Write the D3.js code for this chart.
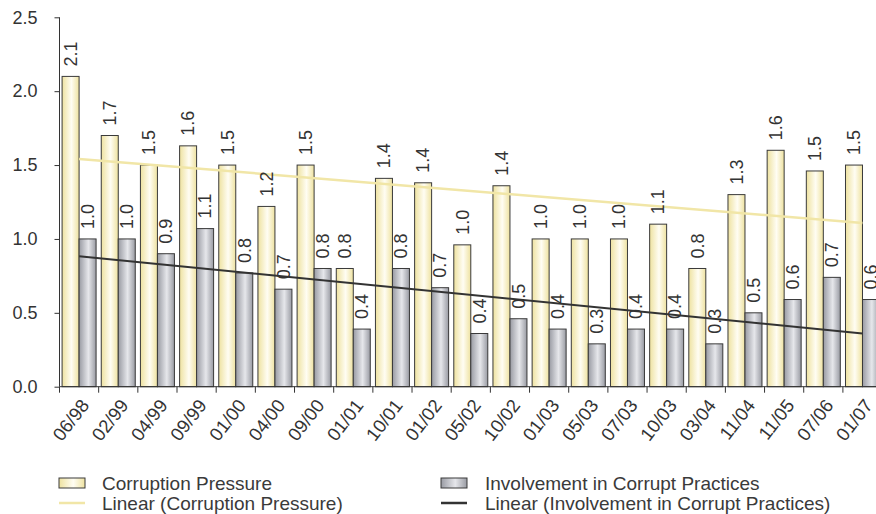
<!DOCTYPE html>
<html>
<head>
<meta charset="utf-8">
<script src="https://cdn.jsdelivr.net/npm/d3@7"></script>
<style>
  html, body { margin: 0; padding: 0; background: #ffffff; overflow: hidden; }
  svg { display: block; font-family: "Liberation Sans", Arial, Helvetica, sans-serif; }
</style>
</head>
<body>
<svg id="chart" width="876" height="514"></svg>
<script>
// Survey waves (month/year)
const categories = ["06/98","02/99","04/99","09/99","01/00","04/00","09/00","01/01","10/01","01/02",
  "05/02","10/02","01/03","05/03","07/03","10/03","03/04","11/04","11/05","07/06","01/07"];

// Corruption Pressure
const pressure = [2.10, 1.70, 1.50, 1.63, 1.50, 1.22, 1.50, 0.80, 1.41, 1.38,
  0.96, 1.36, 1.00, 1.00, 1.00, 1.10, 0.80, 1.30, 1.60, 1.46, 1.50];

// Involvement in Corrupt Practices
const involvement = [1.00, 1.00, 0.90, 1.07, 0.77, 0.66, 0.80, 0.39, 0.80, 0.67,
  0.36, 0.46, 0.39, 0.29, 0.39, 0.39, 0.29, 0.50, 0.59, 0.74, 0.59];

const yTicks = [0, 0.5, 1.0, 1.5, 2.0, 2.5];

const seriesNames = ["Corruption Pressure", "Involvement in Corrupt Practices"];
const trendNames = ["Linear (Corruption Pressure)", "Linear (Involvement in Corrupt Practices)"];

const svg = d3.select("#chart");
const defs = svg.append("defs");

// Cylinder-like horizontal gradients for the bars
function gradient(id, edge, mid) {
  const g = defs.append("linearGradient").attr("id", id)
    .attr("x1", "0%").attr("x2", "100%").attr("y1", "0%").attr("y2", "0%");
  g.append("stop").attr("offset", "0%").attr("stop-color", edge);
  g.append("stop").attr("offset", "55%").attr("stop-color", mid);
  g.append("stop").attr("offset", "100%").attr("stop-color", edge);
}
gradient("gradYellow", "#eee2a0", "#fffdf3");
gradient("gradGray", "#999ba3", "#e6e7eb");

const yellowLine = "#f1e6a7";
const darkLine = "#333333";
const textColor = "#333333";

const x0 = 59.5, bandW = 39.17;
const x = d3.scaleBand().domain(categories)
  .range([x0, x0 + bandW * categories.length]).paddingInner(0).paddingOuter(0);
const y = d3.scaleLinear().domain([0, 2.5]).range([386.7, 17.3]);

const barW = 17;
const fmt = d3.format(".1f");

// Axes
const yAxis = svg.append("g").attr("transform", `translate(${x0},0)`)
  .call(d3.axisLeft(y).tickValues(yTicks).tickFormat(d3.format(".1f")).tickSize(5).tickPadding(17));
yAxis.select(".domain").attr("stroke", darkLine).attr("d", `M-0,${y(2.5)}V${y(0)}`);
yAxis.selectAll(".tick line").attr("stroke", darkLine);
yAxis.selectAll(".tick text").attr("fill", textColor).style("font-size", "18px")
  .attr("font-family", "Liberation Sans, Arial, sans-serif");

// Bars
const groups = svg.append("g").selectAll("g").data(categories).join("g");
groups.append("rect")
  .attr("x", d => x(d) + x.bandwidth() / 2 - barW)
  .attr("y", (d, i) => y(pressure[i]))
  .attr("width", barW)
  .attr("height", (d, i) => y(0) - y(pressure[i]))
  .attr("fill", "url(#gradYellow)").attr("stroke", "#3a3a3a").attr("stroke-width", 1);
groups.append("rect")
  .attr("x", d => x(d) + x.bandwidth() / 2)
  .attr("y", (d, i) => y(involvement[i]))
  .attr("width", barW)
  .attr("height", (d, i) => y(0) - y(involvement[i]))
  .attr("fill", "url(#gradGray)").attr("stroke", "#3a3a3a").attr("stroke-width", 1);

// Linear trend lines (least squares over category index)
function fit(vals) {
  const n = vals.length, xs = d3.range(n);
  const mx = d3.mean(xs), my = d3.mean(vals);
  let sxy = 0, sxx = 0;
  xs.forEach((xi, i) => { sxy += (xi - mx) * (vals[i] - my); sxx += (xi - mx) * (xi - mx); });
  const b = sxy / sxx, a = my - b * mx;
  return [[0, a], [n - 1, a + b * (n - 1)]];
}
const cx = i => x(categories[i]) + x.bandwidth() / 2;
const line = d3.line().x(d => cx(d[0])).y(d => y(d[1]));
svg.append("path").attr("d", line(fit(pressure)))
  .attr("fill", "none").attr("stroke", yellowLine).attr("stroke-width", 2.5);
svg.append("path").attr("d", line(fit(involvement)))
  .attr("fill", "none").attr("stroke", darkLine).attr("stroke-width", 2);

// Value labels
function valueLabels(vals, offset) {
  svg.append("g").selectAll("text").data(vals).join("text")
    .attr("transform", (v, i) => `translate(${cx(i) + offset},${y(v) - 10}) rotate(-90)`)
    .attr("dy", "0.35em")
    .attr("text-anchor", "start")
    .attr("fill", textColor)
    .style("font-size", "18px")
    .text(v => fmt(v));
}
valueLabels(pressure, -barW / 2);
valueLabels(involvement, barW / 2);

// X axis
const xAxis = svg.append("g").attr("transform", `translate(0,${y(0)})`);
xAxis.append("line").attr("x1", x0).attr("x2", x0 + bandW * categories.length)
  .attr("stroke", darkLine);
xAxis.selectAll("line.tick").data(d3.range(categories.length + 1)).join("line")
  .attr("class", "tick")
  .attr("x1", i => x0 + i * bandW).attr("x2", i => x0 + i * bandW)
  .attr("y1", 0).attr("y2", 6).attr("stroke", darkLine);
xAxis.selectAll("text").data(categories).join("text")
  .attr("transform", d => `translate(${x(d) + x.bandwidth() / 2 + 6},15) rotate(-52)`)
  .attr("text-anchor", "end")
  .attr("dy", "0.35em")
  .attr("fill", textColor)
  .style("font-size", "18.5px")
  .text(d => d);

// Legend
const legend = svg.append("g");
const cols = [59, 441];
const textCols = [102, 485];
const row1 = 483, row2 = 503;
const fills = ["url(#gradYellow)", "url(#gradGray)"];
const lineColors = [yellowLine, darkLine];
const lineWidths = [2.5, 2.5];
seriesNames.forEach((name, k) => {
  legend.append("rect").attr("x", cols[k]).attr("y", row1 - 5).attr("width", 26).attr("height", 10)
    .attr("fill", fills[k]).attr("stroke", "#3a3a3a");
  legend.append("text").attr("x", textCols[k]).attr("y", row1).attr("dy", "0.35em")
    .attr("fill", "#3a3a3a").style("font-size", "19px").text(name);
});
trendNames.forEach((name, k) => {
  legend.append("line").attr("x1", cols[k]).attr("x2", cols[k] + 26)
    .attr("y1", row2).attr("y2", row2)
    .attr("stroke", lineColors[k]).attr("stroke-width", lineWidths[k]);
  legend.append("text").attr("x", textCols[k]).attr("y", row2).attr("dy", "0.35em")
    .attr("fill", "#3a3a3a").style("font-size", "19px").text(name);
});
</script>
</body>
</html>
